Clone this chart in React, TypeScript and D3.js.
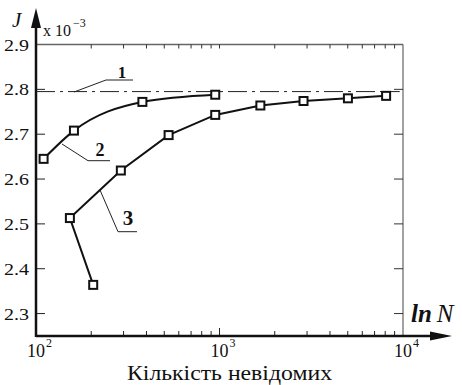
import React from 'react';
import * as d3 from 'd3';

// curve 2 (upper solid curve)
const curve2N = [110, 161, 380, 948];
const curve2J = [2.645, 2.708, 2.772, 2.788];

// curve 3 (lower solid curve, starts at the bottom point)
const curve3N = [205, 153, 290, 528, 948, 1670, 2870, 5010, 8090];
const curve3J = [2.364, 2.513, 2.619, 2.698, 2.743, 2.764, 2.774, 2.78, 2.7855];

// curve 1 (dash-dot reference level)
const curve1N = [100, 9600];
const curve1J = [2.795, 2.795];

const yTicks = [2.3, 2.4, 2.5, 2.6, 2.7, 2.8, 2.9];
const yTickLabels = ['2.3', '2.4', '2.5', '2.6', '2.7', '2.8', '2.9'];
const xDecades = [100, 1000, 10000];
const xDecadeExp = ['2', '3', '4'];

const W = 462;
const H = 385;
const FONT = 'Liberation Serif';

const App = () => {
  const x = d3.scaleLog().domain([100, 10000]).range([36, 403]);
  const y = d3.scaleLinear().domain([2.25, 2.9]).range([336, 44.5]);

  const minorTicks = x.ticks().filter((t) => t > 100 && t < 10000);

  const toPts = (ns: number[], js: number[]) => ns.map((n, i) => [x(n), y(js[i])] as [number, number]);
  const pts2 = toPts(curve2N, curve2J);
  const pts3 = toPts(curve3N, curve3J);
  const pts1 = toPts(curve1N, curve1J);

  const smooth = d3.line().curve(d3.curveMonotoneX);
  const straight = d3.line();

  const x0 = x.range()[0];
  const x1 = x.range()[1];
  const yb = y.range()[0];
  const yt = y(2.9);

  const marker = (p: [number, number], i: number) => (
    <rect key={i} x={p[0] - 4} y={p[1] - 4} width={8} height={8} fill="#fff" stroke="#111" strokeWidth={2} />
  );

  const tx = { fontFamily: FONT, fill: '#111' };

  return (
    <svg width={W} height={H} style={{ position: 'absolute', left: 0, top: 0, background: '#fff' }}>
      {/* frame: top and right */}
      <line x1={x0} x2={x1} y1={yt} y2={yt} stroke="#666" strokeWidth={1.5} />
      <line x1={x1} x2={x1} y1={yt} y2={yb} stroke="#444" strokeWidth={1} />

      {/* minor ticks on top and bottom */}
      {minorTicks.map((t) => (
        <g key={t}>
          <line x1={x(t)} x2={x(t)} y1={yt} y2={yt + 4} stroke="#333" strokeWidth={1} />
          <line x1={x(t)} x2={x(t)} y1={yb} y2={yb - (t === 1000 ? 8 : 5)} stroke="#222" strokeWidth={1} />
        </g>
      ))}

      {/* y ticks left and right */}
      {yTicks.map((t, i) => (
        <g key={t}>
          {t < 2.9 && <line x1={x0} x2={x0 + 9} y1={y(t)} y2={y(t)} stroke="#222" strokeWidth={1} />}
          {t < 2.9 && <line x1={x1} x2={x1 - 9} y1={y(t)} y2={y(t)} stroke="#333" strokeWidth={1} />}
          <text x={29} y={y(t) + 6} fontSize={17} textAnchor="end" style={tx} textLength={25} lengthAdjust="spacingAndGlyphs">
            {yTickLabels[i]}
          </text>
        </g>
      ))}

      {/* x decade labels */}
      {xDecades.map((d, i) => (
        <g key={d}>
          <text x={x(d)} y={357} fontSize={18} textAnchor="middle" style={tx}>10</text>
          <text x={x(d) + 10} y={347} fontSize={12} style={tx}>{xDecadeExp[i]}</text>
        </g>
      ))}

      {/* axes */}
      <line x1={x0} x2={436} y1={yb} y2={yb} stroke="#111" strokeWidth={2.5} />
      <path d={`M452,${yb} L430,${yb - 4.5} L430,${yb + 4.5} Z`} fill="#111" />
      <line x1={x0} x2={x0} y1={yb + 1} y2={24} stroke="#111" strokeWidth={2.5} />
      <path d={`M${x0},8 L${x0 - 5},28 L${x0 + 5},28 Z`} fill="#111" />

      {/* curve 1 */}
      <path d={straight(pts1) || ''} fill="none" stroke="#222" strokeWidth={1} strokeDasharray="19,5,3,5" />

      {/* curve 2 */}
      <path d={smooth(pts2) || ''} fill="none" stroke="#111" strokeWidth={2} />
      {pts2.map(marker)}

      {/* curve 3 */}
      <path d={straight(pts3) || ''} fill="none" stroke="#111" strokeWidth={2} />
      {pts3.map(marker)}

      {/* annotations */}
      <g stroke="#222" strokeWidth={1} fill="none">
        <polyline points="74,92 106,80 133,80" />
        <polyline points="62,144 88,160.7 110,160.7" />
        <polyline points="100,190 118,231.7 137,231.7" />
      </g>
      <text x={122} y={78} fontSize={17} fontWeight="bold" textAnchor="middle" style={tx}>1</text>
      <text x={100} y={156} fontSize={18} fontWeight="bold" textAnchor="middle" style={tx}>2</text>
      <text x={128} y={225} fontSize={21} fontWeight="bold" textAnchor="middle" style={tx}>3</text>

      {/* axis titles */}
      <text x={12} y={27} fontSize={21} fontStyle="italic" style={tx}>J</text>
      <text x={43} y={36} fontSize={16} style={tx}>x 10</text>
      <text x={73} y={27} fontSize={12} style={tx}>−3</text>
      <text x={411} y={322} fontSize={25} style={tx}>
        <tspan fontWeight="bold" fontStyle="italic">ln</tspan>
        <tspan fontStyle="italic" dx={5}>N</tspan>
      </text>
      <text x={127} y={380} fontSize={20} style={tx} textLength={205} lengthAdjust="spacingAndGlyphs">
        Кількість невідомих
      </text>
    </svg>
  );
};

export default App;
